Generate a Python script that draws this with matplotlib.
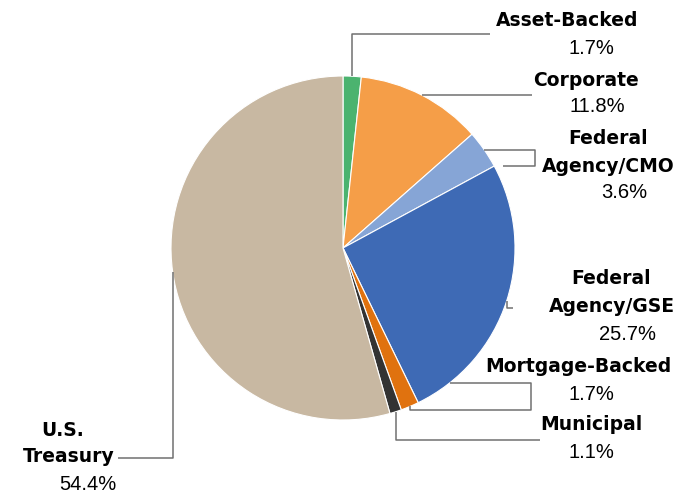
import numpy as np
import matplotlib
matplotlib.use("Agg")
import matplotlib.pyplot as plt

# Portfolio sector allocation (%)
sectors = ["Asset-Backed", "Corporate", "Federal\nAgency/CMO", "Federal\nAgency/GSE",
           "Mortgage-Backed", "Municipal", "U.S.\nTreasury"]
shares = [1.7, 11.8, 3.6, 25.7, 1.7, 1.1, 54.4]
colors = ["#4bb36f", "#f59e48", "#86a5d6", "#3e6ab5", "#e0720f", "#333333", "#c8b8a2"]

W, H = 681, 493
CX, CY, R = 343, 248, 172

# label line centres (pixel x, pixel y, y-down) and leader elbows
label_pos = {
    "Asset-Backed": [(567, 20), (591, 48)],
    "Corporate": [(586, 80), (597, 107)],
    "Federal\nAgency/CMO": [(608, 138), (608, 166), (624, 193)],
    "Federal\nAgency/GSE": [(611, 278), (612, 307), (628, 335)],
    "Mortgage-Backed": [(578, 367), (591, 395)],
    "Municipal": [(591, 424), (591, 452)],
    "U.S.\nTreasury": [(63, 430), (69, 457), (88, 485)],
}
leaders = {
    "Asset-Backed": [(None, 34), (490, 34)],
    "Corporate": [(532, None)],
    "Federal\nAgency/CMO": [(535, None), (535, 166), (503, 166)],
    "Federal\nAgency/GSE": [(None, 308), (513, 308)],
    "Mortgage-Backed": [(None, 410), (531, 410), (531, 383), (450, 383)],
    "Municipal": [(None, 440), (540, 440)],
    "U.S.\nTreasury": [(None, 458), (118, 458)],
}

plt.rcParams['font.family'] = ['Liberation Sans', 'DejaVu Sans']

fig = plt.figure(figsize=(W / 100, H / 100), dpi=100)
ax = fig.add_axes([0, 0, 1, 1])


def Y(y):
    return H - y


wedges, _ = ax.pie(shares, colors=colors, startangle=90, counterclock=False,
                   center=(CX, Y(CY)), radius=R, frame=True,
                   wedgeprops=dict(edgecolor="white", linewidth=0.8))
ax.set_xlim(0, W)
ax.set_ylim(0, H)
ax.set_aspect("equal")
ax.axis("off")

for w, name, val in zip(wedges, sectors, shares):
    mid = np.deg2rad((w.theta1 + w.theta2) / 2)
    sx = CX + R * np.cos(mid)
    sy = CY - R * np.sin(mid)
    xs, ys = [sx], [sy]
    for px, py in leaders[name]:
        xs.append(xs[-1] if px is None else px)
        ys.append(ys[-1] if py is None else py)
    ax.plot(xs, [Y(v) for v in ys], color="#707070", lw=1.1, solid_capstyle="butt",
            zorder=1)

    lines = name.split("\n") + [f"{val:.1f}%"]
    for i, (txt, (tx, ty)) in enumerate(zip(lines, label_pos[name])):
        if i < len(lines) - 1:
            ax.text(tx, Y(ty), txt, ha="center", va="center", fontsize=13.5,
                    fontweight="bold", family="DejaVu Sans", color="black")
        else:
            ax.text(tx, Y(ty), txt, ha="center", va="center", fontsize=14.5,
                    color="black")

fig.savefig("out.png", dpi=100)
